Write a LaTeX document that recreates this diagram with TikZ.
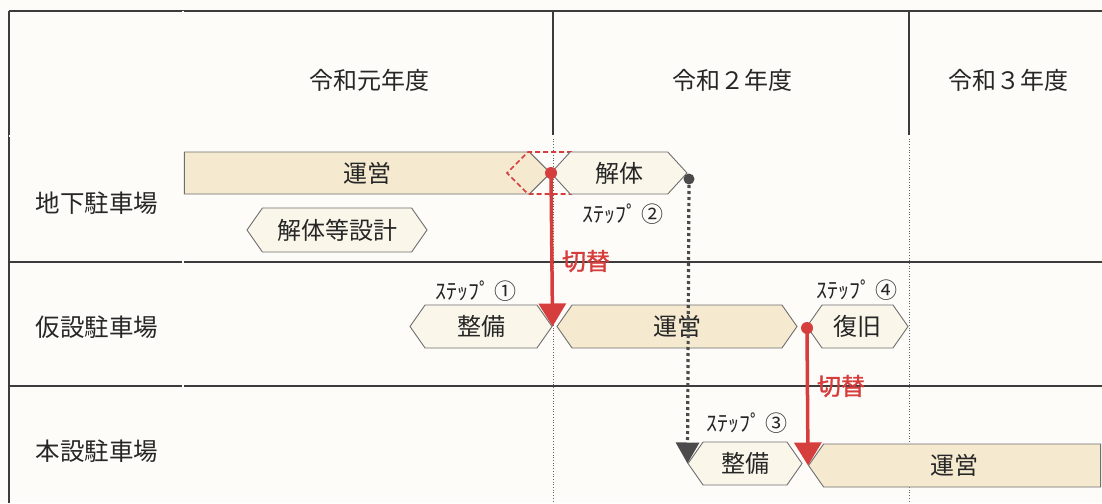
\documentclass[tikz,border=0pt]{standalone}
\usepackage{fontspec}
\setmainfont{Noto Sans CJK JP}
\newfontfamily\jpbold[FakeBold=1.2]{Noto Sans CJK JP}
\usetikzlibrary{shapes.symbols,arrows.meta}
\definecolor{paper}{RGB}{253,252,248}
\definecolor{gridc}{RGB}{60,60,60}
\definecolor{opfill}{RGB}{245,234,208}
\definecolor{hexfill}{RGB}{250,247,234}
\definecolor{hexline}{RGB}{110,110,110}
\definecolor{redc}{RGB}{214,62,62}
\definecolor{darkc}{RGB}{75,75,75}
\begin{document}
\begin{tikzpicture}[x=1pt,y=-1pt,
  bar/.style={signal, draw=hexline, line width=0.9pt, inner sep=0pt, font=\fontsize{24}{24}\selectfont, text=black!85},
  opbar/.style={bar, fill=opfill},
  taskbar/.style={bar, fill=hexfill},
  steplabel/.style={font=\fontsize{22}{22}\selectfont, inner sep=0pt, text=black!85},
  switchlabel/.style={font=\jpbold\fontsize{24}{24}\selectfont, text=redc, inner sep=0pt},
  head/.style={font=\fontsize{24}{24}\selectfont, inner sep=0pt, text=black!85},
  rowlabel/.style={font=\fontsize{24.5}{24.5}\selectfont, inner sep=0pt, text=black!85},
  redarrow/.style={draw=redc, line width=3.5pt, -{Triangle[length=23pt,width=27pt]}},
  greyarrow/.style={draw=darkc, line width=3.2pt, dash pattern=on 3pt off 3pt, -{Triangle[length=21pt,width=23pt]}},
  dotmark/.style={circle, inner sep=0pt, minimum size=12pt},
  gridline/.style={draw=gridc, line width=1.1pt},
  doubleline/.style={draw=gridc, double=paper, double distance=1.2pt, line width=0.7pt},
  dotline/.style={draw=gridc!80, line width=0.7pt, dotted}
]
\useasboundingbox[fill=paper] (0,0) rectangle (1102,503);
% grid
\draw[gridline] (9,11) -- (1102,11);
\draw[gridline] (9,11) -- (9,503);
\draw[gridline] (553,11) -- (553,136);
\draw[gridline] (909,11) -- (909,136);
\draw[dotline] (553,136) -- (553,503);
\draw[dotline] (909,136) -- (909,503);
\draw[gridline] (9,262) -- (1102,262);
\draw[gridline] (9,386) -- (1102,386);
\draw[doubleline] (183,11) -- (183,503);
\draw[doubleline] (9,136) -- (1102,136);
% headers
\node[head] (h1) at (369,80) {令和元年度};
\node[head] (h2) at (732,80) {令和２年度};
\node[head] (h3) at (1008,80) {令和３年度};
\node[rowlabel] (r1) at (97,203) {地下駐車場};
\node[rowlabel] (r2) at (97,327) {仮設駐車場};
\node[rowlabel] (r3) at (97,451) {本設駐車場};
% row 1
\node[opbar, signal to=east, signal pointer angle=90, minimum width=366pt, minimum height=42pt, anchor=east] (op1) at (551,173) {\hspace*{21pt}運営};
\draw[draw=redc, line width=1.6pt, dash pattern=on 5pt off 3pt] (572,152) -- (528,152) -- (507,173) -- (528,194) -- (572,194);
\node[taskbar, signal to=west and east, signal pointer angle=95, minimum width=136pt, minimum height=42pt] (kaitai) at (619,173) {解体};
\node[taskbar, signal to=west and east, signal pointer angle=110, minimum width=180pt, minimum height=44pt] (design) at (337,230) {解体等設計};
% row 2
\node[taskbar, signal to=west and east, signal pointer angle=110, minimum width=142pt, minimum height=43pt] (seibi1) at (481,326.5) {整備};
\node[opbar, signal to=west and east, signal pointer angle=110, minimum width=240pt, minimum height=43pt] (op2) at (677,326.5) {運営};
\node[taskbar, signal to=west and east, signal pointer angle=110, minimum width=101pt, minimum height=43pt] (fukkyu) at (857.5,326.5) {復旧};
% row 3
\node[taskbar, signal to=west and east, signal pointer angle=110, minimum width=114pt, minimum height=43pt] (seibi3) at (745,463.5) {整備};
\node[opbar, signal to=west, signal pointer angle=110, minimum width=292pt, minimum height=43pt, anchor=west] (op3) at (808,465.5) {運営\hspace*{15pt}};
% step labels
\node[steplabel] (s1) at (476,291) {ｽﾃｯﾌﾟ ①};
\node[steplabel] (s2) at (623,214) {ｽﾃｯﾌﾟ ②};
\node[steplabel] (s3) at (747,423) {ｽﾃｯﾌﾟ ③};
\node[steplabel] (s4) at (857,290) {ｽﾃｯﾌﾟ ④};
% switch labels
\node[switchlabel] (k1) at (586,261) {切替};
\node[switchlabel] (k2) at (841,386) {切替};
% connectors
\node[dotmark, fill=darkc, minimum size=11pt] (gdot) at (689,179) {};
\draw[greyarrow] (gdot.center) -- (seibi3.west);
\node[dotmark, fill=redc] (rdot1) at (551,173) {};
\draw[redarrow] (rdot1.center) -- (seibi1.east);
\node[dotmark, fill=redc] (rdot2) at (807,328) {};
\draw[redarrow] (rdot2.center) -- (op3.west);
\end{tikzpicture}
\end{document}
